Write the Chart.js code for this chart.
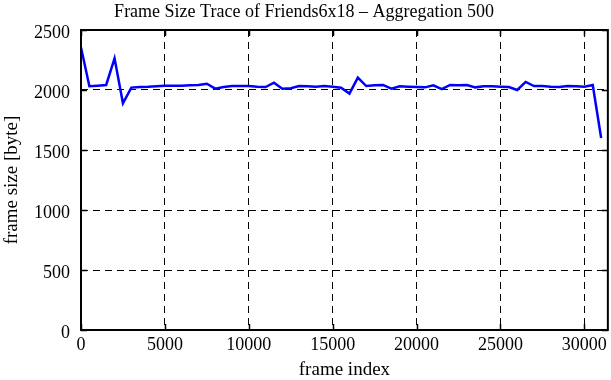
<!DOCTYPE html>
<html>
<head>
<meta charset="utf-8">
<script src="https://cdn.jsdelivr.net/npm/chart.js@4"></script>
<style>
  html, body { margin: 0; padding: 0; background: #fff; }
  #wrap { width: 611px; height: 380px; }
</style>
</head>
<body>
<div id="wrap"><canvas id="c" width="611" height="380"></canvas></div>
<script>
const chartTitle = "Frame Size Trace of Friends6x18 \u2013 Aggregation 500";
const xTitle = "frame index";
const yTitle = "frame size [byte]";
const xTickValues = [0, 5000, 10000, 15000, 20000, 25000, 30000];
const yTickValues = [0, 500, 1000, 1500, 2000, 2500];
const frameIndex = [0, 500, 1000, 1500, 2000, 2500, 3000, 3500, 4000, 4500,
  5000, 5500, 6000, 6500, 7000, 7500, 8000, 8500, 9000, 9500,
  10000, 10500, 11000, 11500, 12000, 12500, 13000, 13500, 14000, 14500,
  15000, 15500, 16000, 16500, 17000, 17500, 18000, 18500, 19000, 19500,
  20000, 20500, 21000, 21500, 22000, 22500, 23000, 23500, 24000, 24500,
  25000, 25500, 26000, 26500, 27000, 27500, 28000, 28500, 29000, 29500,
  30000, 30500, 31000];
const frameSize = [2355, 2031, 2036, 2042, 2264, 1889, 2020, 2025, 2027, 2031,
  2036, 2036, 2036, 2039, 2042, 2052, 2011, 2025, 2033, 2033,
  2033, 2028, 2025, 2061, 2011, 2014, 2033, 2031, 2028, 2033,
  2028, 2019, 1970, 2103, 2033, 2039, 2042, 2011, 2031, 2028,
  2025, 2022, 2039, 2008, 2042, 2039, 2042, 2022, 2031, 2031,
  2028, 2025, 2000, 2067, 2033, 2033, 2028, 2025, 2033, 2031,
  2028, 2042, 1600];

const FONT = "'Liberation Serif', 'Times New Roman', serif";

const framePlugin = {
  id: 'frame',
  afterDatasetsDraw(chart) {
    const {ctx, chartArea: a, scales} = chart;
    ctx.save();
    ctx.strokeStyle = '#000';
    ctx.lineWidth = 1.5;
    ctx.setLineDash([]);
    const L = 6;
    ctx.beginPath();
    xTickValues.forEach(v => {
      const px = Math.round(scales.x.getPixelForValue(v)) + 0.5;
      ctx.moveTo(px, a.bottom); ctx.lineTo(px, a.bottom - L);
      ctx.moveTo(px, a.top); ctx.lineTo(px, a.top + L);
    });
    yTickValues.forEach(v => {
      const py = Math.round(scales.y.getPixelForValue(v)) + 0.5;
      ctx.moveTo(a.left, py); ctx.lineTo(a.left + L, py);
      ctx.moveTo(a.right, py); ctx.lineTo(a.right - L, py);
    });
    ctx.stroke();
    ctx.lineWidth = 2;
    ctx.strokeRect(a.left, a.top, a.right - a.left, a.bottom - a.top);
    ctx.restore();
  }
};

new Chart(document.getElementById('c'), {
  type: 'line',
  data: {
    datasets: [{
      data: frameIndex.map((x, i) => ({x: x, y: frameSize[i]})),
      borderColor: '#0000ff',
      borderWidth: 2.5,
      pointRadius: 0,
      tension: 0,
      fill: false
    }]
  },
  options: {
    responsive: false,
    devicePixelRatio: 1,
    animation: false,
    layout: { padding: { left: 0, right: 3, top: 0, bottom: 0 } },
    plugins: {
      legend: { display: false },
      tooltip: { enabled: false },
      title: {
        display: true,
        text: chartTitle,
        color: '#000',
        font: { family: FONT, size: 18, weight: 'normal', lineHeight: 1.2 },
        padding: { top: 1, bottom: 7.4 }
      }
    },
    scales: {
      x: {
        type: 'linear',
        min: 0,
        max: 31400,
        afterBuildTicks: s => { s.ticks = xTickValues.map(v => ({value: v})); },
        afterFit: s => { s.height = 50; },
        ticks: {
          color: '#000',
          padding: 4,
          maxRotation: 0,
          autoSkip: false,
          font: { family: FONT, size: 18 },
          callback: v => String(v)
        },
        grid: {
          color: ctx => (ctx.tick && (ctx.tick.value === 0)) ? 'rgba(0,0,0,0)' : '#000',
          lineWidth: 1,
          drawTicks: false
        },
        border: { display: false, dash: [7, 5] },
        title: {
          display: true,
          text: xTitle,
          color: '#000',
          font: { family: FONT, size: 19, lineHeight: 1 },
          padding: { top: 0, bottom: 0 }
        }
      },
      y: {
        type: 'linear',
        min: 0,
        max: 2500,
        afterBuildTicks: s => { s.ticks = yTickValues.map(v => ({value: v})); },
        afterFit: s => { s.width = 81; },
        ticks: {
          color: '#000',
          padding: 11,
          labelOffset: 3,
          font: { family: FONT, size: 18 },
          callback: v => String(v)
        },
        grid: {
          color: ctx => (ctx.tick && (ctx.tick.value === 0 || ctx.tick.value === 2500)) ? 'rgba(0,0,0,0)' : '#000',
          lineWidth: 1,
          drawTicks: false
        },
        border: { display: false, dash: [7, 5] },
        title: {
          display: true,
          text: yTitle,
          color: '#000',
          font: { family: FONT, size: 19, lineHeight: 1.2 },
          padding: { top: 1, bottom: 0 }
        }
      }
    }
  },
  plugins: [framePlugin]
});
</script>
</body>
</html>
